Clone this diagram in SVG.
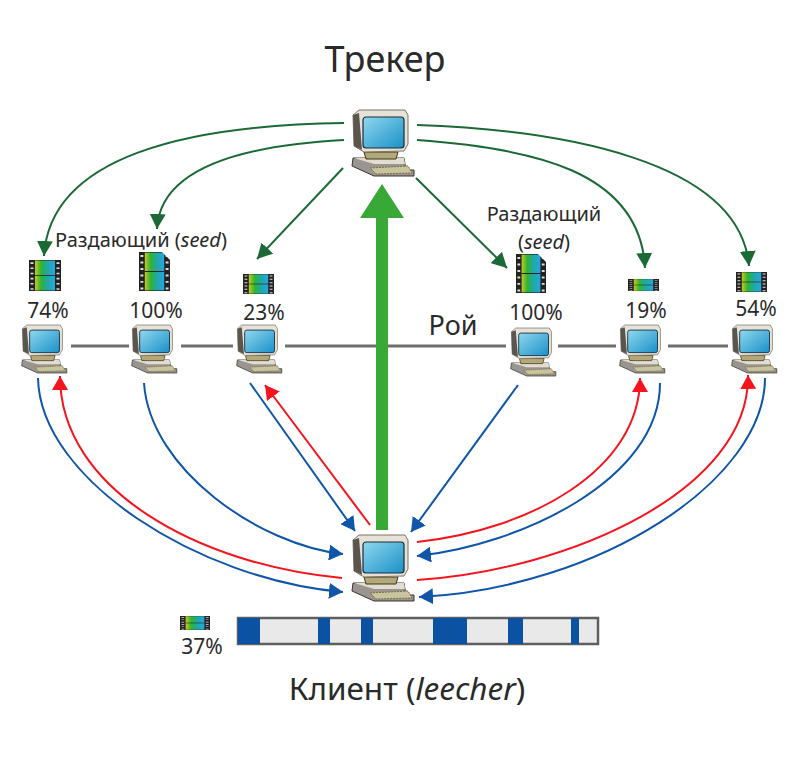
<svg xmlns="http://www.w3.org/2000/svg" width="800" height="764" viewBox="0 0 800 764">
<style>
text{font-family:"Noto Sans","Open Sans","DejaVu Sans",sans-serif;fill:#2a2a2a}
.pc{font-size:21px;text-anchor:middle}
.s{font-size:20px;text-anchor:middle}
.g{fill:none;stroke:#1b6a35;stroke-width:2}
.b{fill:none;stroke:#0f55a8;stroke-width:2}
.r{fill:none;stroke:#f5141e;stroke-width:2}
.l{stroke:#6e6e6e;stroke-width:3}
.seg{fill:#0b52a3}
</style>
<defs>
<linearGradient id="fg" x1="0" x2="1" y1="0" y2="0">
<stop offset="0" stop-color="#c8c820"/><stop offset=".3" stop-color="#2fb52f"/><stop offset=".6" stop-color="#1fa8a0"/><stop offset="1" stop-color="#28a6e0"/>
</linearGradient>
<linearGradient id="sc" x1="0" x2="1" y1="0" y2="1">
<stop offset="0" stop-color="#8fd8ee"/><stop offset="1" stop-color="#1a90c8"/>
</linearGradient>
<marker id="ag" markerUnits="userSpaceOnUse" markerWidth="18" markerHeight="16" refX="15" refY="8" orient="auto"><path d="M0 0L15 8L0 16z" fill="#1b6a35"/></marker>
<marker id="ab" markerUnits="userSpaceOnUse" markerWidth="17" markerHeight="16" refX="14" refY="8" orient="auto"><path d="M0 0L14 8L0 16z" fill="#0f55a8"/></marker>
<marker id="ar" markerUnits="userSpaceOnUse" markerWidth="17" markerHeight="16" refX="14" refY="8" orient="auto"><path d="M0 0L14 8L0 16z" fill="#f5141e"/></marker>
<symbol id="computer" viewBox="0 0 64 66" overflow="visible">
<path d="M3 48L54 48L56 60L64 60L64 66L24 66L2 56z" fill="#9a9590" stroke="#3a3530" stroke-width="1"/>
<path d="M4 48L54 48L55 54L24 54z" fill="#e2ddd0"/>
<path d="M20 58L58 56L62 63L26 64z" fill="#c9c4a0" stroke="#7a6f3c" stroke-width="1" stroke-dasharray="2 1"/>
<path d="M14 42L48 42L46 49L16 49z" fill="#b3a878" stroke="#3a3520" stroke-width="1"/>
<path d="M3 5L9 0L55 0L58 5L58 34L54 41L14 42L4 36z" fill="#e6e2d8" stroke="#7a7566" stroke-width="1"/>
<path d="M3 5L9 3L12 40L4 36z" fill="#5a564e"/>
<rect x="13" y="7" width="41" height="31" rx="3" fill="url(#sc)" stroke="#1c2b3a" stroke-width="1.2"/>
</symbol>
<symbol id="film" viewBox="0 0 32 30" preserveAspectRatio="none" overflow="visible">
<rect width="32" height="30" fill="#222"/>
<rect x="6" y="0.5" width="20" height="29" fill="url(#fg)"/>
<path d="M6 15H26" stroke="#222" stroke-width=".8"/>
<path d="M1.5 3H4.5M1.5 8H4.5M1.5 13H4.5M1.5 18H4.5M1.5 23H4.5M1.5 28H4.5M27.5 3H30.5M27.5 8H30.5M27.5 13H30.5M27.5 18H30.5M27.5 23H30.5M27.5 28H30.5" stroke="#ddd" stroke-width="1.5"/>
</symbol>
</defs>
<rect width="800" height="764" fill="#fff"/>
<g id="connectors">
<path class="l" d="M71 346H129M181 346H233M285 346H506M558 346H616M668 346H728"/>
<path class="g" marker-end="url(#ag)" d="M344 123C190 125 50 155 44 256"/>
<path class="g" marker-end="url(#ag)" d="M344 140C250 145 160 165 157 229"/>
<path class="g" marker-end="url(#ag)" d="M343 168L257 259"/>
<path class="g" marker-end="url(#ag)" d="M416 178L507 268"/>
<path class="g" marker-end="url(#ag)" d="M417 140C530 148 640 170 645 268"/>
<path class="g" marker-end="url(#ag)" d="M417 125C560 130 740 160 749 266"/>
<path d="M382 184L404 218H388V530H376V218H360z" fill="#38a936"/>
<path class="b" marker-end="url(#ab)" d="M38 378C40 480 200 580 343 592"/>
<path class="b" marker-end="url(#ab)" d="M144 383C150 470 260 545 343 554"/>
<path class="b" marker-end="url(#ab)" d="M250 383L355 531"/>
<path class="b" marker-end="url(#ab)" d="M518 385L411 532"/>
<path class="b" marker-end="url(#ab)" d="M660 383C660 480 520 545 417 556"/>
<path class="b" marker-end="url(#ab)" d="M765 378C765 480 600 588 419 597"/>
<path class="r" marker-end="url(#ar)" d="M342 578C200 565 60 490 60 376"/>
<path class="r" marker-end="url(#ar)" d="M370 525L265 385"/>
<path class="r" marker-end="url(#ar)" d="M417 542C530 530 640 470 640 378"/>
<path class="r" marker-end="url(#ar)" d="M417 580C570 570 750 490 748 375"/>
</g>
<g id="tracker"><use href="#computer" x="350" y="110" width="64" height="66"/><text x="385" y="72" font-size="36" text-anchor="middle">Трекер</text></g>
<g id="peer1"><use href="#computer" x="20" y="325" width="47" height="48"/><use href="#film" x="29" y="260" width="32" height="31"/><text class="pc" x="48" y="318">74%</text></g>
<g id="peer2"><use href="#computer" x="130" y="325" width="47" height="48"/><use href="#film" x="139" y="252" width="31" height="39"/><path d="M162 252H171V261z" fill="#fff"/><text class="pc" x="156" y="318">100%</text></g>
<g id="peer3"><use href="#computer" x="235" y="325" width="47" height="48"/><use href="#film" x="243" y="274" width="31" height="20"/><text class="pc" x="264" y="320">23%</text></g>
<g id="peer4"><use href="#computer" x="509" y="328" width="47" height="48"/><use href="#film" x="516" y="254" width="30" height="39"/><path d="M538 254H547V263z" fill="#fff"/><text class="pc" x="536" y="320">100%</text></g>
<g id="peer5"><use href="#computer" x="618" y="325" width="47" height="48"/><use href="#film" x="628" y="279" width="31" height="12"/><text class="pc" x="646" y="318">19%</text></g>
<g id="peer6"><use href="#computer" x="730" y="325" width="47" height="48"/><use href="#film" x="736" y="272" width="31" height="20"/><text class="pc" x="756" y="316">54%</text></g>
<g id="client">
<use href="#computer" x="350" y="535" width="64" height="66"/>
<use href="#film" x="180" y="616" width="30" height="14"/>
<text class="pc" x="202" y="654">37%</text>
<rect x="238" y="618" width="360" height="26" fill="#e9e9e9" stroke="#5f5f5f" stroke-width="2.5"/>
<rect class="seg" x="238" y="618" width="22" height="26"/><rect class="seg" x="318" y="618" width="12" height="26"/><rect class="seg" x="361" y="618" width="12" height="26"/><rect class="seg" x="433" y="618" width="34" height="26"/><rect class="seg" x="508" y="618" width="15" height="26"/><rect class="seg" x="571" y="618" width="8" height="26"/>
<text x="407" y="700" font-size="31.5" text-anchor="middle">Клиент (<tspan font-style="italic">leecher</tspan>)</text>
</g>
<g id="labels">
<text class="s" x="141" y="247">Раздающий (<tspan font-style="italic">seed</tspan>)</text>
<text class="s" x="544" y="221">Раздающий</text>
<text class="s" x="544" y="249">(<tspan font-style="italic">seed</tspan>)</text>
<text x="453" y="335" font-size="27" text-anchor="middle">Рой</text>
</g>
</svg>
